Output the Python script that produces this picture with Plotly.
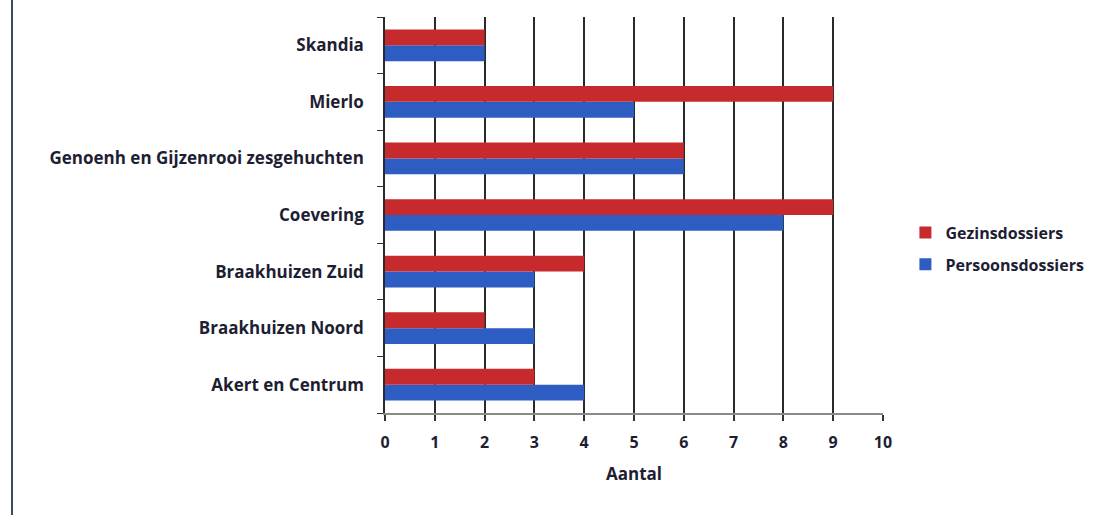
import plotly.graph_objects as go

categories = ["Akert en Centrum", "Braakhuizen Noord", "Braakhuizen Zuid", "Coevering",
              "Genoenh en Gijzenrooi zesgehuchten", "Mierlo", "Skandia"]
gezinsdossiers = [3, 2, 4, 9, 6, 9, 2]
persoonsdossiers = [4, 3, 3, 8, 6, 5, 2]
x_ticks = list(range(0, 11))

RED = "#C62A2C"
BLUE = "#2D5CC3"
TEXT = "#1E1E33"
FONT = "Open Sans"

fig = go.Figure()
fig.add_trace(go.Bar(y=categories, x=persoonsdossiers, orientation="h", name="Persoonsdossiers",
                     marker=dict(color=BLUE, line=dict(width=0)), legendgroup="p", legendrank=2))
fig.add_trace(go.Bar(y=categories, x=gezinsdossiers, orientation="h", name="Gezinsdossiers",
                     marker=dict(color=RED, line=dict(width=0)), legendgroup="g", legendrank=1))

fig.update_layout(
    width=1119, height=515,
    margin=dict(l=385, r=236, t=17, b=102),
    paper_bgcolor="white", plot_bgcolor="white",
    barmode="group", bargap=0.44, bargroupgap=0,
    font=dict(family=FONT, color=TEXT, size=16, weight="bold"),
    legend=dict(x=1.045, y=0.415, xanchor="left", yanchor="middle",
                traceorder="grouped", tracegroupgap=8,
                font=dict(family=FONT, size=16, color=TEXT, weight="bold")),
    xaxis=dict(range=[0, 10], tickvals=x_ticks, ticks="outside", ticklen=6, tickwidth=1.5,
               tickcolor="#333", showgrid=True, gridcolor="#2a2a2a", gridwidth=1.5,
               showline=True, linecolor="#8a8a8a", linewidth=1.5, zeroline=False,
               ticklabelstandoff=8,
               tickfont=dict(family=FONT, size=16, color=TEXT, weight="bold"),
               title=dict(text="Aantal", standoff=16,
                          font=dict(family=FONT, size=17, color=TEXT, weight="bold"))),
    yaxis=dict(categoryorder="array", categoryarray=categories, tickson="boundaries",
               ticks="outside", ticklen=6, tickcolor="#333", showgrid=False,
               showline=True, linecolor="#2a2a2a", linewidth=1.5, ticklabelstandoff=16,
               tickfont=dict(family=FONT, size=17, color=TEXT, weight="bold")),
    shapes=[dict(type="line", xref="paper", yref="paper", x0=-0.749, x1=-0.749, y0=-0.26, y1=1.05,
                 line=dict(color="#3a4a66", width=2))],
)

fig.write_html("out.html")
